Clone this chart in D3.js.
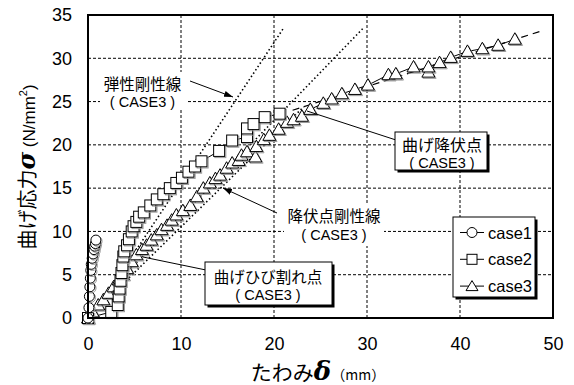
<!DOCTYPE html>
<html><head><meta charset="utf-8">
<script src="https://cdn.jsdelivr.net/npm/d3@7/dist/d3.min.js"></script>
<style>body{margin:0;background:#fff}svg{display:block}</style>
</head><body>
<svg id="c" width="574" height="385"></svg>
<script>
const xTicks = [0,10,20,30,40,50];
const yTicks = [0,5,10,15,20,25,30,35];
const case1X = [0,0.1,0.15,0.2,0.25,0.3,0.35,0.45,0.55,0.65,0.72,0.8,0.85];
const case1Y = [0,1.2,2.5,3.6,4.6,5.5,6.2,6.9,7.4,7.9,8.3,8.6,9.0];
const case2X = [0,2.5,3.2,3.3,3.4,3.5,3.6,3.7,3.8,3.9,4.2,4.4,4.7,4.9,5.2,5.5,6.0,6.7,7.4,8.1,8.8,9.5,10.1,10.8,11.5,12.2,14.1,15.5,17.1,17.1,17.8,19.0,20.6];
const case2Y = [0,0.7,1.5,2.5,3.4,4.3,5.2,6.1,7.1,7.7,8.4,9.1,10.0,10.6,11.1,11.7,12.2,13.0,13.7,14.3,15.0,15.6,16.2,16.9,17.5,18.1,19.3,20.5,20.9,21.9,22.4,23.2,23.6];
const case3X = [0,0.5,1.1,1.65,2.2,2.75,3.3,3.75,4.2,4.7,5.2,5.8,6.3,6.8,7.4,7.9,8.5,9.0,9.5,10.2,11.0,11.7,12.4,13.1,13.7,14.2,14.9,15.5,16.2,16.5,17.1,18.0,18.1,18.9,19.5,20.5,21.4,22.1,23.0,23.9,25.3,26.2,27.3,28.7,30.1,32.3,33.1,35.0,36.6,36.6,37.8,39.0,40.8,42.4,44.1,45.9];
const case3Y = [0,0.7,1.5,2.1,2.85,3.6,4.4,5.0,5.7,6.5,7.3,7.9,8.4,9.0,9.6,10.2,10.7,11.3,11.9,12.4,13.0,14.0,15.0,15.6,16.1,16.5,17.3,17.9,18.2,18.8,19.2,18.6,19.8,20.6,21.1,21.8,22.6,22.9,23.3,24.1,24.8,25.3,25.9,26.4,26.9,28.1,28.2,29.0,28.4,29.0,29.5,30.1,30.8,31.1,31.5,32.2];
// trend (dashed) line for case3
const trendX = [22, 48.6];
const trendY = [24.0, 33.1];
// dotted stiffness lines
const elasticX = [2.3, 21.1];
const elasticY = [3.2, 33.6];
const secantX = [3.4, 29.7];
const secantY = [4.4, 33.6];
const yieldX = [3.8, 23.2];
const yieldY = [4.0, 24.4];
const legendLabels = ["case1","case2","case3"];

const svg = d3.select("#c");
const M = {l:88, r:553, t:15, b:318};
const x = d3.scaleLinear().domain([0,50]).range([M.l, M.r]);
const y = d3.scaleLinear().domain([0,35]).range([M.b, M.t]);

// grid
const g = svg.append("g");
g.selectAll(".gx").data(xTicks.filter(d=>d>0&&d<50)).join("line")
  .attr("x1",d=>x(d)).attr("x2",d=>x(d)).attr("y1",y(0)).attr("y2",y(35))
  .attr("stroke","#000").attr("stroke-width",1).attr("stroke-dasharray","3,2");
g.selectAll(".gy").data(yTicks.filter(d=>d>0&&d<35)).join("line")
  .attr("y1",d=>y(d)).attr("y2",d=>y(d)).attr("x1",x(0)).attr("x2",x(50))
  .attr("stroke","#000").attr("stroke-width",1).attr("stroke-dasharray","3,2");

// axes
const xAxis = d3.axisBottom(x).tickValues(xTicks).tickSize(0).tickPadding(19);
const yAxis = d3.axisLeft(y).tickValues(yTicks).tickSize(0).tickPadding(16);
const ax = svg.append("g").attr("transform",`translate(0,${y(0)})`).call(xAxis);
const ay = svg.append("g").attr("transform",`translate(${x(0)},0)`).call(yAxis);
[ax,ay].forEach(a=>{a.select(".domain").remove();
  a.selectAll("text").attr("font-family","Liberation Sans, Arial, sans-serif").attr("font-size",18).attr("fill","#000");});

const line = d3.line().x(d=>x(d[0])).y(d=>y(d[1]));
const pts = (X,Y)=>X.map((v,i)=>[v,Y[i]]);

// dotted lines
[[elasticX,elasticY],[secantX,secantY],[yieldX,yieldY]].forEach(([X,Y])=>{
  svg.append("path").attr("d",line(pts(X,Y))).attr("fill","none")
    .attr("stroke","#000").attr("stroke-width",1.6).attr("stroke-dasharray","1.5,2.5");
});
// trend dashed
svg.append("path").attr("d",line(pts(trendX,trendY))).attr("fill","none")
  .attr("stroke","#000").attr("stroke-width",1.2).attr("stroke-dasharray","7,5");

// series lines
[[case1X,case1Y],[case2X,case2Y],[case3X,case3Y]].forEach(([X,Y])=>{
  svg.append("path").attr("d",line(pts(X,Y))).attr("fill","none")
    .attr("stroke","#000").attr("stroke-width",1);
});

function marker(sel, type, cx, cy){
  const s = sel.append("g").attr("transform",`translate(${cx},${cy})`);
  const draw = (dx,dy,fill,stroke)=>{
    if(type==="circle") s.append("circle").attr("cx",dx).attr("cy",dy).attr("r",5).attr("fill",fill).attr("stroke",stroke);
    else if(type==="square") s.append("rect").attr("x",dx-5.5).attr("y",dy-5.5).attr("width",11).attr("height",11).attr("fill",fill).attr("stroke",stroke);
    else s.append("path").attr("d",`M${dx},${dy-6.5}L${dx+6.5},${dy+5}L${dx-6.5},${dy+5}Z`).attr("fill",fill).attr("stroke",stroke);
  };
  draw(1.2,1.2,"none","#999");
  draw(0,0,"#fff","#000");
}
const mk = svg.append("g");
case3X.forEach((v,i)=>marker(mk,"tri",x(v),y(case3Y[i])));
case2X.forEach((v,i)=>marker(mk,"square",x(v),y(case2Y[i])));
case1X.forEach((v,i)=>marker(mk,"circle",x(v),y(case1Y[i])));

// frame
svg.append("rect").attr("x",x(0)).attr("y",y(35)).attr("width",x(50)-x(0)).attr("height",y(0)-y(35))
  .attr("fill","none").attr("stroke","#000").attr("stroke-width",2);

const jp = "'Noto Sans CJK JP', sans-serif";
const lat = "Liberation Sans, Arial, sans-serif";

// annotations
svg.append("defs").append("marker").attr("id","ah").attr("viewBox","0 0 10 10").attr("refX",10).attr("refY",5)
  .attr("markerWidth",9).attr("markerHeight",9).attr("orient","auto")
  .append("path").attr("d","M0,1.5L10,5L0,8.5Z").attr("fill","#000");

function textBlock(cx, y1, y2, l1, l2, fs){
  svg.append("text").attr("x",cx).attr("y",y1).attr("text-anchor","middle").attr("dominant-baseline","central").attr("font-family",jp).attr("font-size",fs).text(l1);
  svg.append("text").attr("x",cx).attr("y",y2).attr("text-anchor","middle").attr("dominant-baseline","central").attr("font-family",lat).attr("font-size",14.5).attr("xml:space","preserve").text(l2);
}
function box(x0,y0,w,h){
  svg.append("rect").attr("x",x0+2.5).attr("y",y0+2.5).attr("width",w).attr("height",h).attr("fill","#000");
  svg.append("rect").attr("x",x0).attr("y",y0).attr("width",w).attr("height",h).attr("fill","#fff").attr("stroke","#000").attr("stroke-width",1);
}
// 弾性剛性線
svg.append("line").attr("x1",190).attr("y1",81).attr("x2",233).attr("y2",97).attr("stroke","#000").attr("marker-end","url(#ah)");
svg.append("rect").attr("x",100).attr("y",72).attr("width",86).attr("height",38).attr("fill","#fff");
textBlock(142.5, 83, 101.5, "弾性剛性線", "( CASE3 )", 15.5);
// 曲げ降伏点
svg.append("line").attr("x1",396).attr("y1",140).attr("x2",307).attr("y2",111).attr("stroke","#000");
box(395,132,92,38);
textBlock(442, 143.5, 162.5, "曲げ降伏点", "( CASE3 )", 16);
// 降伏点剛性線
svg.append("line").attr("x1",277).attr("y1",213).attr("x2",223).attr("y2",188).attr("stroke","#000").attr("marker-end","url(#ah)");
svg.append("rect").attr("x",284).attr("y",204).attr("width",100).attr("height",42).attr("fill","#fff");
textBlock(334, 215, 235, "降伏点剛性線", "( CASE3 )", 15.5);
// 曲げひび割れ点
svg.append("line").attr("x1",206).attr("y1",270).attr("x2",143).attr("y2",257).attr("stroke","#000");
box(205,262,127,43);
textBlock(268, 275.5, 295, "曲げひび割れ点", "( CASE3 )", 15.5);

// legend
box(453,217,82,80);
const types=["circle","square","tri"];
legendLabels.forEach((t,i)=>{
  const ly = 232.5+i*26.8;
  svg.append("line").attr("x1",460).attr("x2",484).attr("y1",ly).attr("y2",ly).attr("stroke","#000");
  const s = svg.append("g").attr("transform",`translate(472,${ly})`);
  if(types[i]==="circle") s.append("circle").attr("r",5).attr("fill","#fff").attr("stroke","#000");
  else if(types[i]==="square") s.append("rect").attr("x",-5).attr("y",-5).attr("width",10).attr("height",10).attr("fill","#fff").attr("stroke","#000");
  else s.append("path").attr("d","M0,-5.5L6,4.5L-6,4.5Z").attr("fill","#fff").attr("stroke","#000");
  svg.append("text").attr("x",488).attr("y",ly).attr("dominant-baseline","central").attr("font-family",lat).attr("font-size",16.5).text(t);
});

// axis titles
const yt = svg.append("text").attr("transform","translate(35,167) rotate(-90)").attr("text-anchor","middle").attr("font-family",jp).attr("font-size",20);
yt.append("tspan").text("曲げ応力");
yt.append("tspan").attr("font-family","DejaVu Serif, serif").attr("font-style","italic").attr("font-weight","bold").attr("font-size",24).text("σ");
yt.append("tspan").attr("font-family",lat).attr("font-size",17).text(" (N/mm");
yt.append("tspan").attr("font-family",lat).attr("font-size",11).attr("dy",-8).text("2");
yt.append("tspan").attr("font-family",lat).attr("font-size",17).attr("dy",8).text(")");

const xt = svg.append("text").attr("x",318).attr("y",380).attr("text-anchor","middle").attr("font-family",jp).attr("font-size",21);
xt.append("tspan").text("たわみ");
xt.append("tspan").attr("font-family","DejaVu Serif, serif").attr("font-style","italic").attr("font-weight","bold").attr("font-size",26).text("δ");
xt.append("tspan").attr("font-family",jp).attr("font-size",14).text("（mm）");
</script>
</body></html>
